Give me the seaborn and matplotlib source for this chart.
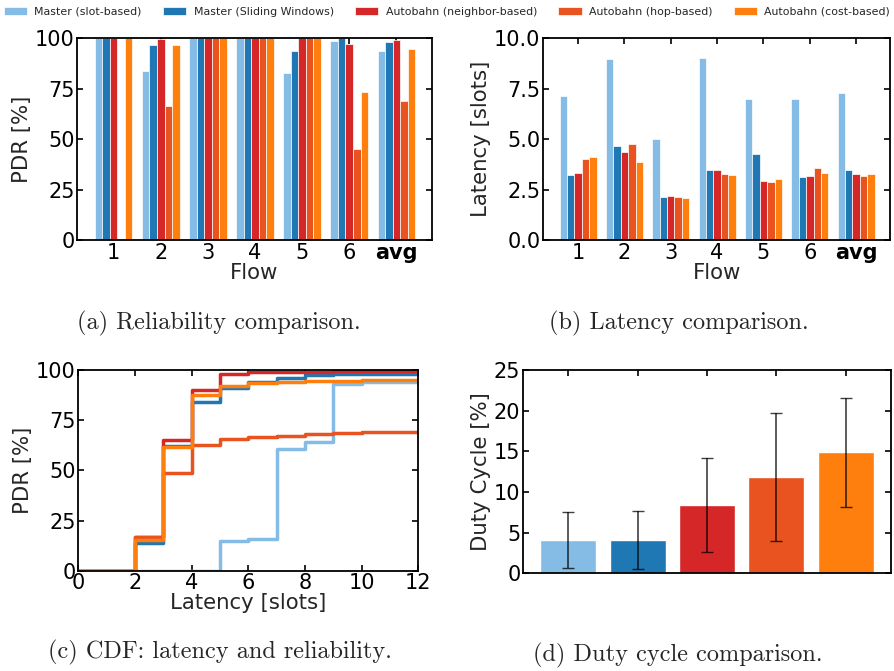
import numpy as np
import pandas as pd
import seaborn as sns
import matplotlib.pyplot as plt

sns.set_theme(style="ticks")
plt.rcParams['font.family'] = ['DejaVu Sans']

methods = ["Master (slot-based)", "Master (Sliding Windows)", "Autobahn (neighbor-based)",
           "Autobahn (hop-based)", "Autobahn (cost-based)"]
colors = ["#85bce6", "#1f77b4", "#d62728", "#e8531f", "#ff7f0e"]
flows = ["1", "2", "3", "4", "5", "6", "avg"]

# PDR per flow [%]
pdr_slot = [100, 84, 100, 100, 83, 98.8, 93.9]
pdr_sw = [100, 96.9, 100, 100, 93.7, 100, 98]
pdr_nb = [100, 99.8, 100, 100, 100, 97, 99.3]
pdr_hop = [0, 66.3, 100, 100, 100, 45, 68.8]
pdr_cost = [100, 96.7, 100, 100, 100, 73.5, 94.5]

# latency per flow [slots]
lat_slot = [7.12, 8.98, 4.99, 9.01, 6.98, 6.98, 7.31]
lat_sw = [3.22, 4.66, 2.12, 3.47, 4.28, 3.12, 3.47]
lat_nb = [3.31, 4.36, 2.18, 3.47, 2.93, 3.17, 3.26]
lat_hop = [4.02, 4.76, 2.13, 3.29, 2.88, 3.59, 3.19]
lat_cost = [4.13, 3.87, 2.07, 3.21, 3.01, 3.31, 3.26]

# CDF of latency (value holds from x up to next slot)
cdf_x = list(range(13))
cdf_slot = [0, 0, 0, 0, 0, 15, 15.8, 60.5, 64.3, 92.9, 93.8, 94, 94]
cdf_sw = [0, 0, 14, 62, 83.9, 90.9, 94, 96.2, 97.5, 98, 98, 98, 98]
cdf_nb = [0, 0, 16.6, 65, 90, 97.8, 98.8, 99, 99.2, 99.3, 99.4, 99.5, 99.5]
cdf_hop = [0, 0, 16.6, 48.8, 62.6, 65.6, 66.8, 67.3, 67.9, 68.4, 68.9, 68.9, 68.9]
cdf_cost = [0, 0, 15.3, 61.5, 87.5, 92.2, 93.4, 93.8, 94.4, 94.7, 94.8, 94.8, 94.8]

# duty cycle [%]
duty = [4.1, 4.1, 8.4, 11.85, 14.9]
duty_err = [3.48, 3.6, 5.8, 7.9, 6.7]

pal = dict(zip(methods, colors))


def long_form(series, keys, keyname):
    rows = []
    for m, vals in zip(methods, series):
        for k, v in zip(keys, vals):
            rows.append({keyname: k, "method": m, "value": v})
    return pd.DataFrame(rows)


pdr_df = long_form([pdr_slot, pdr_sw, pdr_nb, pdr_hop, pdr_cost], flows, "flow")
lat_df = long_form([lat_slot, lat_sw, lat_nb, lat_hop, lat_cost], flows, "flow")
cdf_df = long_form([cdf_slot, cdf_sw, cdf_nb, cdf_hop, cdf_cost], cdf_x, "latency")
duty_df = pd.DataFrame({"method": methods, "value": duty})

fig = plt.figure(figsize=(8.94, 6.71), dpi=100)
ax_a = fig.add_axes([0.0865, 0.6423, 0.3964, 0.3006])
ax_b = fig.add_axes([0.6077, 0.6423, 0.3878, 0.3006])
ax_c = fig.add_axes([0.0876, 0.1495, 0.3803, 0.2991])
ax_d = fig.add_axes([0.5853, 0.1456, 0.4110, 0.3030])

TICK = 15
LAB = 15.3


def style(ax):
    for s in ax.spines.values():
        s.set_linewidth(1.3)
        s.set_color("black")
    ax.tick_params(direction="in", top=True, right=True, length=4, width=1.2,
                   labelsize=TICK, pad=2, colors="black")


# (a) reliability
sns.barplot(data=pdr_df, x="flow", y="value", hue="method", palette=pal, ax=ax_a,
            width=0.8, edgecolor="white", linewidth=0.5, saturation=1)
handles, labels = ax_a.get_legend_handles_labels()
ax_a.get_legend().remove()
ax_a.set_ylim(0, 100)
ax_a.set_yticks([0, 25, 50, 75, 100])
ax_a.set_xlim(-0.77, 6.75)
ax_a.set_ylabel("PDR [%]", fontsize=LAB, labelpad=2)
ax_a.set_xlabel("Flow", fontsize=LAB, labelpad=0)
style(ax_a)

# (b) latency
sns.barplot(data=lat_df, x="flow", y="value", hue="method", palette=pal, ax=ax_b,
            width=0.8, edgecolor="white", linewidth=0.5, saturation=1, legend=False)
ax_b.set_ylim(0, 10)
ax_b.set_yticks([0, 2.5, 5, 7.5, 10])
ax_b.yaxis.set_major_formatter(plt.FormatStrFormatter("%.1f"))
ax_b.set_xlim(-0.75, 6.73)
ax_b.set_ylabel("Latency [slots]", fontsize=LAB, labelpad=2)
ax_b.set_xlabel("Flow", fontsize=LAB, labelpad=0)
style(ax_b)

for ax in (ax_a, ax_b):
    for t in ax.get_xticklabels():
        if t.get_text() == "avg":
            t.set_fontweight("bold")

# (c) CDF
sns.lineplot(data=cdf_df, x="latency", y="value", hue="method", palette=pal, ax=ax_c,
             estimator=None, drawstyle="steps-post", linewidth=2.5, legend=False)
ax_c.set_xlim(0, 12)
ax_c.set_ylim(0, 100)
ax_c.set_xticks(range(0, 13, 2))
ax_c.set_yticks([0, 25, 50, 75, 100])
ax_c.set_ylabel("PDR [%]", fontsize=LAB, labelpad=2)
ax_c.set_xlabel("Latency [slots]", fontsize=LAB, labelpad=0)
style(ax_c)

# (d) duty cycle
sns.barplot(data=duty_df, x="method", y="value", hue="method", palette=pal, ax=ax_d,
            width=0.81, saturation=1, legend=False)
ax_d.errorbar(np.arange(len(methods)), duty, yerr=duty_err, fmt="none",
              ecolor="black", elinewidth=1.2, capsize=4, alpha=0.75)
ax_d.set_ylim(0, 25)
ax_d.set_yticks([0, 5, 10, 15, 20, 25])
ax_d.set_xlim(-0.65, 4.65)
ax_d.set_xticklabels([])
ax_d.set_xlabel("")
ax_d.set_ylabel("Duty Cycle [%]", fontsize=LAB, labelpad=2)
style(ax_d)

fig.legend(handles, labels, loc="upper center", bbox_to_anchor=(0.5, 1.005), ncol=5,
           frameon=False, fontsize=7.9, handlelength=2.1, handleheight=0.8,
           columnspacing=1.95, handletextpad=0.68)

cap = dict(fontsize=17.5, family="cmr10", ha="center", va="center")
fig.text(219 / 894, 1 - 323 / 671, "(a) Reliability comparison.", **cap)
fig.text(679 / 894, 1 - 323 / 671, "(b) Latency comparison.", **cap)
fig.text(220 / 894, 1 - 652 / 671, "(c) CDF: latency and reliability.", **cap)
fig.text(678 / 894, 1 - 655 / 671, "(d) Duty cycle comparison.", **cap)

fig.savefig("out.png", dpi=100)
